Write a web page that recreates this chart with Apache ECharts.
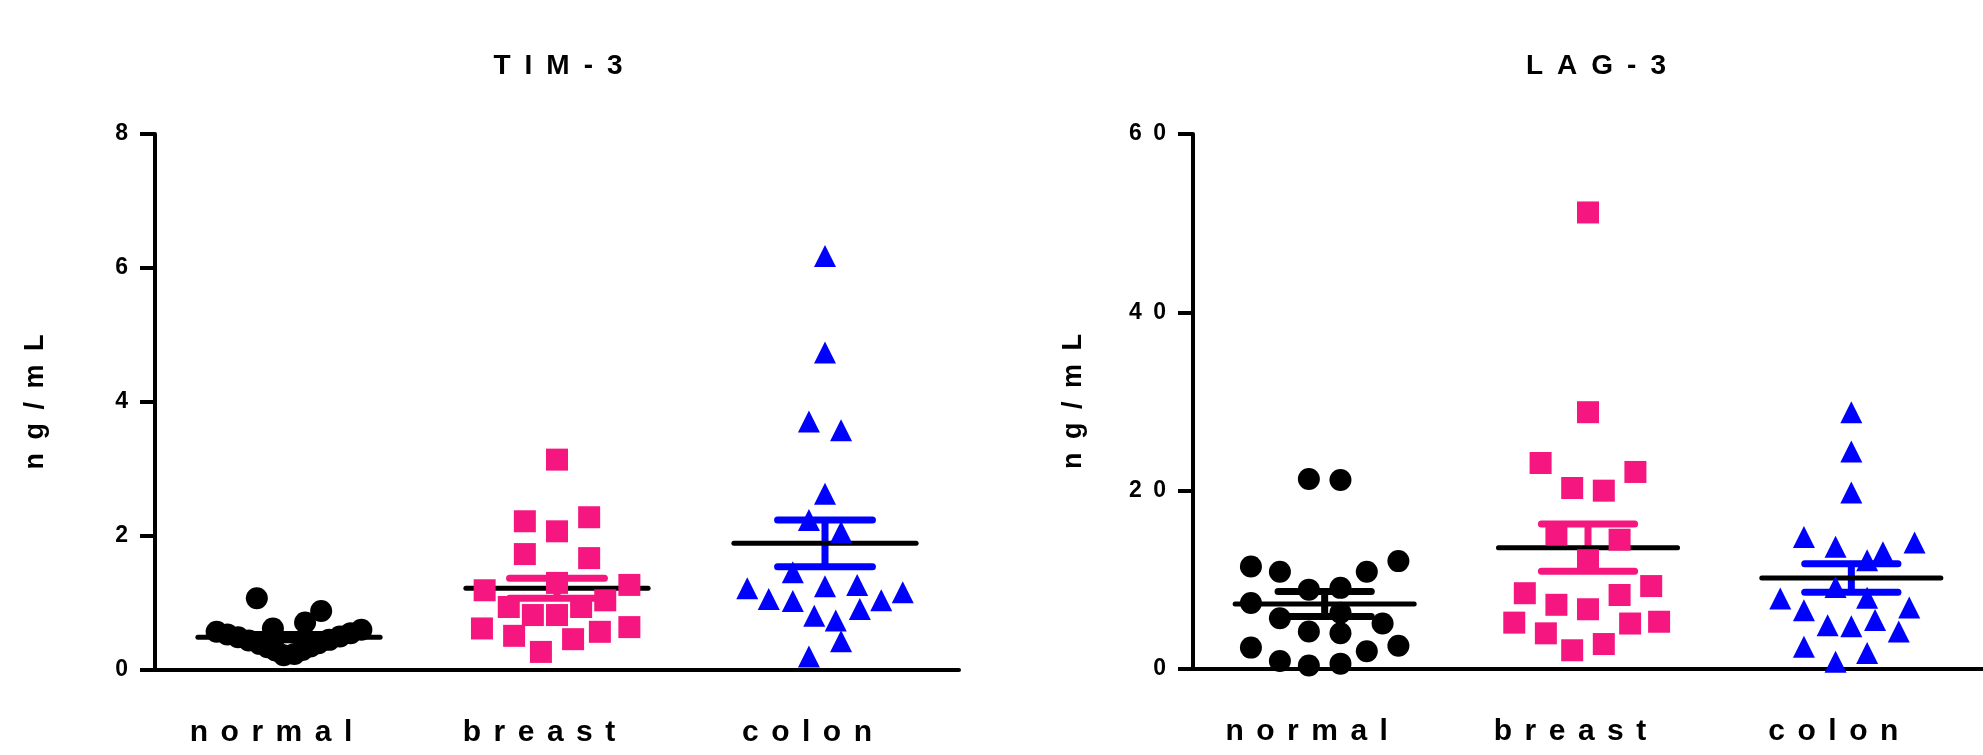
<!DOCTYPE html>
<html>
<head>
<meta charset="utf-8">
<script src="https://cdn.jsdelivr.net/npm/echarts@6/dist/echarts.min.js"></script>
<style>
  html, body { margin: 0; padding: 0; background: #fff; }
  #chart { width: 1983px; height: 755px; }
</style>
</head>
<body>
<div id="chart"></div>
<script>
// groups
var categories = ['normal', 'breast', 'colon'];
var titles = ['TIM-3', 'LAG-3'];
var yName = 'ng/mL';

// TIM-3 (ng/mL), dx = horizontal scatter offset from the column
var timNormal   = [0.57, 0.53, 0.49, 0.44, 0.39, 0.34, 0.29, 0.22, 0.60, 0.55, 0.50, 0.45, 0.40, 0.35, 0.30, 0.24, 1.07, 0.88, 0.71, 0.62];
var timNormalDx = [-0.27, -0.23, -0.19, -0.15, -0.11, -0.08, -0.05, -0.02, 0.27, 0.23, 0.19, 0.15, 0.11, 0.08, 0.05, 0.02, -0.12, 0.12, 0.06, -0.06];
var timBreast   = [3.14, 2.22, 2.28, 2.07, 1.73, 1.67, 1.30, 1.19, 1.27, 0.94, 0.82, 0.82, 0.94, 1.04, 0.62, 0.51, 0.27, 0.46, 0.57, 0.64];
var timBreastDx = [0, -0.12, 0.12, 0, -0.12, 0.12, 0, -0.27, 0.27, -0.18, -0.09, 0, 0.09, 0.18, -0.28, -0.16, -0.06, 0.06, 0.16, 0.27];
var timColon    = [6.18, 4.74, 3.71, 3.58, 2.63, 2.24, 2.06, 1.46, 1.22, 1.25, 1.27, 1.16, 1.06, 1.03, 1.04, 0.91, 0.81, 0.74, 0.43, 0.20];
var timColonDx  = [0, 0, -0.06, 0.06, 0, -0.06, 0.06, -0.12, -0.29, 0, 0.12, 0.29, -0.21, -0.12, 0.21, 0.13, -0.04, 0.04, 0.06, -0.06];
var timMean = [0.49, 1.22, 1.89];
var timSem  = [0.04, 0.15, 0.35];

// LAG-3 (ng/mL)
var lagNormal   = [21.3, 21.2, 11.5, 10.9, 10.9, 12.1, 8.9, 9.1, 7.4, 5.7, 6.3, 5.1, 4.2, 4.0, 2.4, 2.6, 2.0, 0.9, 0.4, 0.6];
var lagNormalDx = [-0.06, 0.06, -0.28, -0.17, 0.16, 0.28, -0.06, 0.06, -0.28, -0.17, 0.06, 0.22, -0.06, 0.06, -0.28, 0.28, 0.16, -0.17, -0.06, 0.06];
var lagBreast   = [51.2, 28.8, 23.1, 22.1, 20.3, 20.0, 15.1, 14.5, 12.2, 8.5, 9.3, 8.3, 7.2, 6.7, 5.2, 5.3, 5.1, 4.0, 2.8, 2.1];
var lagBreastDx = [0, 0, -0.18, 0.18, -0.06, 0.06, -0.12, 0.12, 0, -0.24, 0.24, 0.12, -0.12, 0, -0.28, 0.27, 0.16, -0.16, 0.06, -0.06];
var lagColon    = [28.8, 24.4, 19.8, 14.8, 14.2, 13.7, 13.1, 12.2, 9.2, 8.0, 7.9, 6.6, 6.9, 5.5, 4.9, 4.8, 4.2, 2.5, 1.8, 0.8];
var lagColonDx  = [0, 0, 0, -0.18, 0.24, -0.06, 0.12, 0.06, -0.06, 0.06, -0.27, -0.18, 0.22, 0.09, -0.09, 0, 0.18, -0.18, 0.06, -0.06];
var lagMean = [7.3, 13.6, 10.2];
var lagSem  = [1.4, 2.65, 1.6];

var colors = ['#000000', '#F5167F', '#0000FF'];
var symbols = ['circle', 'rect', 'triangle'];
var font = "'Liberation Sans Narrow', 'Liberation Sans', Arial, sans-serif";

function spaced(s) {
  return String(s).split('').join('\u2002');
}

// category labels: tighter letter gap and a trailing gap (labels sit a bit left of the ticks)
function catSpaced(s) {
  return String(s).split('').join('\u2005\u2006') + '\u2002\u2002\u2009';
}

function pts(col, vals, dx) {
  return vals.map(function (v, i) { return [col + dx[i], v]; });
}

function errData(mean, sem) {
  return mean.map(function (m, i) { return [i, m, m - sem[i], m + sem[i]]; });
}

function errRender(params, api) {
  var x = api.value(0), m = api.value(1), lo = api.value(2), hi = api.value(3);
  var c = colors[params.dataIndex];
  var top = api.coord([x, hi]);
  var bot = api.coord([x, lo]);
  var mL = api.coord([x - 0.34, m]);
  var mR = api.coord([x + 0.34, m]);
  var cap = api.size([0.177, 0])[0];
  var es = { stroke: c, lineWidth: 7, lineCap: 'round' };
  return {
    type: 'group',
    children: [
      { type: 'line', shape: { x1: top[0], y1: top[1], x2: bot[0], y2: bot[1] }, style: { stroke: c, lineWidth: 7 } },
      { type: 'line', shape: { x1: top[0] - cap, y1: top[1], x2: top[0] + cap, y2: top[1] }, style: es },
      { type: 'line', shape: { x1: bot[0] - cap, y1: bot[1], x2: bot[0] + cap, y2: bot[1] }, style: es },
      { type: 'line', shape: { x1: mL[0], y1: mL[1], x2: mR[0], y2: mR[1] }, style: { stroke: '#000', lineWidth: 5, lineCap: 'round' } }
    ]
  };
}

function catAxis(g) {
  return {
    type: 'category', gridIndex: g, data: categories, boundaryGap: true,
    axisLine: { onZero: false, lineStyle: { color: '#000', width: 4 } },
    axisTick: { alignWithLabel: true, length: 19, lineStyle: { color: '#000', width: 4 } },
    axisLabel: { color: '#000', fontSize: 30, fontWeight: 'bold', fontFamily: font, margin: 48,
      formatter: function (v) { return catSpaced(v); } },
    splitLine: { show: false }
  };
}

function valXAxis(g) {
  return { type: 'value', gridIndex: g, min: -0.5, max: 2.5, show: false,
    axisLine: { onZero: false }, splitLine: { show: false } };
}

function yAxis(g, max, interval) {
  return {
    type: 'value', gridIndex: g, min: 0, max: max, interval: interval,
    name: spaced(yName), nameLocation: 'middle', nameGap: 106, nameRotate: 90,
    nameTextStyle: { color: '#000', fontSize: 27, fontWeight: 'bold', fontFamily: font },
    axisLine: { show: true, onZero: false, lineStyle: { color: '#000', width: 4 } },
    axisTick: { show: true, length: 15, lineStyle: { color: '#000', width: 4 } },
    axisLabel: { color: '#000', fontSize: 23, fontWeight: 'bold', fontFamily: font, margin: 27,
      formatter: function (v) { return spaced(v); } },
    splitLine: { show: false }
  };
}

function scatter(xi, yi, col, data) {
  return {
    type: 'scatter', xAxisIndex: xi, yAxisIndex: yi, data: data,
    symbol: symbols[col], symbolSize: 22,
    itemStyle: { color: colors[col], opacity: 1 }
  };
}

var option = {
  animation: false,
  backgroundColor: '#fff',
  title: [
    { text: spaced(titles[0]), left: 553, top: 47, textAlign: 'center',
      textStyle: { color: '#000', fontSize: 28, fontWeight: 'bold', fontFamily: font } },
    { text: spaced(titles[1]), left: 1591, top: 47, textAlign: 'center',
      textStyle: { color: '#000', fontSize: 28, fontWeight: 'bold', fontFamily: font } }
  ],
  grid: [
    { left: 155, top: 134, width: 804, height: 536 },
    { left: 1193, top: 134, width: 804, height: 535 }
  ],
  xAxis: [catAxis(0), valXAxis(0), catAxis(1), valXAxis(1)],
  yAxis: [yAxis(0, 8, 2), yAxis(1, 60, 20)],
  series: [
    scatter(1, 0, 0, pts(0, timNormal, timNormalDx)),
    scatter(1, 0, 1, pts(1, timBreast, timBreastDx)),
    scatter(1, 0, 2, pts(2, timColon, timColonDx)),
    { type: 'custom', xAxisIndex: 1, yAxisIndex: 0, renderItem: errRender, data: errData(timMean, timSem), clip: false },
    scatter(3, 1, 0, pts(0, lagNormal, lagNormalDx)),
    scatter(3, 1, 1, pts(1, lagBreast, lagBreastDx)),
    scatter(3, 1, 2, pts(2, lagColon, lagColonDx)),
    { type: 'custom', xAxisIndex: 3, yAxisIndex: 1, renderItem: errRender, data: errData(lagMean, lagSem), clip: false }
  ]
};

var chart = echarts.init(document.getElementById('chart'));
chart.setOption(option);
window.addEventListener('resize', function () { chart.resize(); });
</script>
</body>
</html>
